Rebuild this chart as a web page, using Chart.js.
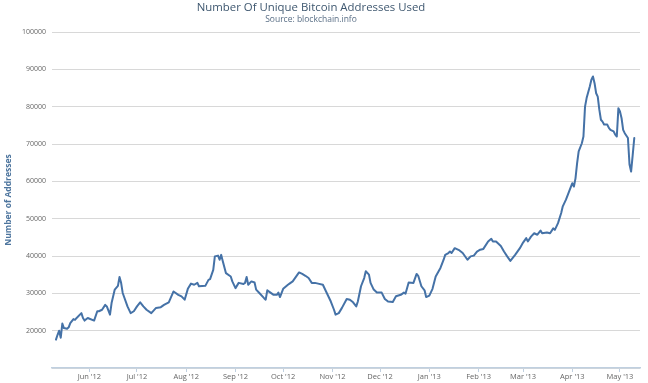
<!DOCTYPE html>
<html>
<head>
<meta charset="utf-8">
<script src="https://cdn.jsdelivr.net/npm/chart.js@4"></script>
<style>
html,body{margin:0;padding:0;background:#fff;}
canvas{display:block;}
</style>
</head>
<body>
<canvas id="c" width="648" height="383"></canvas>
<script>
const titleText = "Number Of Unique Bitcoin Addresses Used";
const subtitleText = "Source: blockchain.info";
const yAxisTitle = "Number of Addresses";

const dates = [
"2012-05-11","2012-05-12","2012-05-13","2012-05-14","2012-05-15","2012-05-16","2012-05-18","2012-05-19","2012-05-20","2012-05-22",
"2012-05-23","2012-05-24","2012-05-27","2012-05-28","2012-05-29","2012-05-31","2012-06-04","2012-06-06","2012-06-07","2012-06-09",
"2012-06-11","2012-06-12","2012-06-14","2012-06-15","2012-06-17","2012-06-19","2012-06-20","2012-06-21","2012-06-22","2012-06-25",
"2012-06-27","2012-06-29","2012-07-01","2012-07-03","2012-07-05","2012-07-07","2012-07-10","2012-07-13","2012-07-16","2012-07-18",
"2012-07-21","2012-07-24","2012-07-27","2012-07-29","2012-07-31","2012-08-02","2012-08-04","2012-08-06","2012-08-08","2012-08-09",
"2012-08-13","2012-08-15","2012-08-16","2012-08-18","2012-08-19","2012-08-21","2012-08-22","2012-08-23","2012-08-24","2012-08-26",
"2012-08-29","2012-08-30","2012-09-01","2012-09-03","2012-09-06","2012-09-07","2012-09-08","2012-09-09","2012-09-11","2012-09-13",
"2012-09-14","2012-09-16","2012-09-19","2012-09-20","2012-09-21","2012-09-23","2012-09-25","2012-09-27","2012-09-28","2012-09-29",
"2012-10-01","2012-10-04","2012-10-05","2012-10-07","2012-10-10","2012-10-11","2012-10-13","2012-10-15","2012-10-17","2012-10-19",
"2012-10-21","2012-10-23","2012-10-26","2012-10-28","2012-10-31","2012-11-02","2012-11-03","2012-11-05","2012-11-07","2012-11-10",
"2012-11-12","2012-11-14","2012-11-16","2012-11-17","2012-11-19","2012-11-21","2012-11-22","2012-11-24","2012-11-25","2012-11-27",
"2012-11-29","2012-12-02","2012-12-04","2012-12-06","2012-12-09","2012-12-11","2012-12-14","2012-12-16","2012-12-17","2012-12-19",
"2012-12-22","2012-12-24","2012-12-25","2012-12-27","2012-12-29","2012-12-30","2013-01-01","2013-01-03","2013-01-05","2013-01-08",
"2013-01-10","2013-01-11","2013-01-13","2013-01-14","2013-01-15","2013-01-17","2013-01-20","2013-01-22","2013-01-25","2013-01-27",
"2013-01-29","2013-01-31","2013-02-02","2013-02-04","2013-02-07","2013-02-09","2013-02-10","2013-02-12","2013-02-15","2013-02-17",
"2013-02-19","2013-02-21","2013-02-24","2013-02-27","2013-03-01","2013-03-03","2013-03-04","2013-03-06","2013-03-08","2013-03-10",
"2013-03-12","2013-03-13","2013-03-16","2013-03-18","2013-03-20","2013-03-21","2013-03-23","2013-03-25","2013-03-26","2013-03-28",
"2013-03-30","2013-04-01","2013-04-02","2013-04-03","2013-04-04","2013-04-05","2013-04-07","2013-04-08","2013-04-09","2013-04-10",
"2013-04-12","2013-04-13","2013-04-14","2013-04-15","2013-04-16","2013-04-17","2013-04-18","2013-04-19","2013-04-20","2013-04-21",
"2013-04-23","2013-04-24","2013-04-25","2013-04-27","2013-04-28","2013-04-29","2013-04-30","2013-05-01","2013-05-02","2013-05-03",
"2013-05-04","2013-05-06","2013-05-07","2013-05-08","2013-05-09","2013-05-10"
];

const addresses = [
17600,18900,20000,18100,21900,20700,20500,20900,22000,23100,
22900,23400,24700,23400,22700,23400,22700,25200,25200,25600,
26900,26500,24300,27400,31000,32000,34400,32800,30100,26500,
24700,25200,26500,27600,26500,25600,24700,26100,26300,26900,
27600,30500,29600,29200,28300,31200,32600,32300,32800,31900,
32000,33600,33800,36300,39900,40100,39000,40300,38600,35400,
34500,33200,31400,32800,32500,32800,34400,32300,33200,32900,
31000,30100,28700,28300,30800,30200,29600,29600,30200,29000,
31200,32300,32600,33200,35000,35600,35200,34700,34100,32800,
32800,32600,32300,30500,27800,25600,24300,24700,26100,28500,
28300,27600,26500,27800,31900,34100,35900,35000,32800,31000,
30200,30200,28500,27800,27700,29200,29600,30200,29900,32900,
32800,35200,34700,31900,30800,29000,29400,31200,34500,36800,
39000,40300,40800,41200,40800,42100,41500,40800,39000,39900,
40100,41200,41700,41900,43900,44600,43900,43900,42700,41200,
39900,38700,40300,42100,43600,44800,43900,45200,46100,45700,
46800,46100,46300,46100,47400,47000,48800,51500,53300,55100,
57300,59500,58600,60800,64800,68000,70200,72000,80000,82300,
85400,87200,88100,86300,83600,82700,79200,76500,76000,75200,
75200,74300,73800,73400,72500,72000,79600,78700,76900,73800,
72900,71600,64500,62600,67000,71600
];

const monthTicks = ["2012-06-01","2012-07-01","2012-08-01","2012-09-01","2012-10-01","2012-11-01",
                    "2012-12-01","2013-01-01","2013-02-01","2013-03-01","2013-04-01","2013-05-01"];
const monthLabels = ["Jun '12","Jul '12","Aug '12","Sep '12","Oct '12","Nov '12",
                     "Dec '12","Jan '13","Feb '13","Mar '13","Apr '13","May '13"];

const yTickValues = [10000,20000,30000,40000,50000,60000,70000,80000,90000,100000];

const EPOCH = Date.UTC(2012, 4, 1);
function dayIndex(s) {
  const p = s.split("-").map(Number);
  return (Date.UTC(p[0], p[1] - 1, p[2]) - EPOCH) / 86400000;
}
const tickDays = monthTicks.map(dayIndex);
const points = dates.map((d, i) => ({ x: dayIndex(d), y: addresses[i] }));

const FONT = "'Open Sans', 'Noto Sans', sans-serif";

const headerPlugin = {
  id: 'header',
  afterDraw(chart) {
    const ctx = chart.ctx;
    ctx.save();
    ctx.textAlign = 'center';
    ctx.textBaseline = 'alphabetic';
    ctx.fillStyle = '#3E576F';
    ctx.font = "11.4px " + FONT;
    ctx.fillText(titleText, 311, 11);
    ctx.fillStyle = '#5a6f86';
    ctx.font = "8.5px " + FONT;
    ctx.fillText(subtitleText, 311, 22);
    ctx.restore();
  }
};

new Chart(document.getElementById('c'), {
  type: 'line',
  data: {
    datasets: [{
      label: 'Addresses',
      data: points,
      borderColor: '#4572A7',
      borderWidth: 2,
      borderJoinStyle: 'round',
      borderCapStyle: 'round',
      pointRadius: 0,
      tension: 0,
      fill: false
    }]
  },
  options: {
    responsive: false,
    animation: false,
    devicePixelRatio: 1,
    layout: { padding: { top: 32, right: 8, left: 0, bottom: 0 } },
    plugins: {
      legend: { display: false },
      tooltip: { enabled: false },
      title: { display: false }
    },
    scales: {
      x: {
        type: 'linear',
        min: 7.5,
        max: 377.6,
        afterBuildTicks(scale) { scale.ticks = tickDays.map(v => ({ value: v })); },
        afterFit(scale) { scale.height = 15; },
        ticks: {
          autoSkip: false,
          maxRotation: 0,
          padding: 0,
          color: '#666',
          font: { family: FONT, size: 7.5 },
          callback(v) { const i = tickDays.indexOf(v); return i >= 0 ? monthLabels[i] : ''; }
        },
        grid: { drawOnChartArea: false, drawTicks: true, tickLength: 4, color: '#C0D0E0' },
        border: { display: true, color: '#C0D0E0', width: 1.5 }
      },
      y: {
        min: 10000,
        max: 100000,
        afterBuildTicks(scale) { scale.ticks = yTickValues.map(v => ({ value: v })); },
        afterFit(scale) { scale.width = 52; },
        ticks: {
          padding: 6,
          color: '#666',
          font: { family: FONT, size: 7 },
          callback(v) { return v === 10000 ? '' : String(v); }
        },
        grid: { color: '#d8d8d8', drawTicks: false, lineWidth: 1 },
        border: { display: false },
        title: {
          display: true,
          text: yAxisTitle,
          color: '#4d759e',
          font: { family: FONT, size: 8.5, weight: 'bold' },
          padding: { top: 3, bottom: 0 }
        }
      }
    }
  },
  plugins: [headerPlugin]
});
</script>
</body>
</html>
